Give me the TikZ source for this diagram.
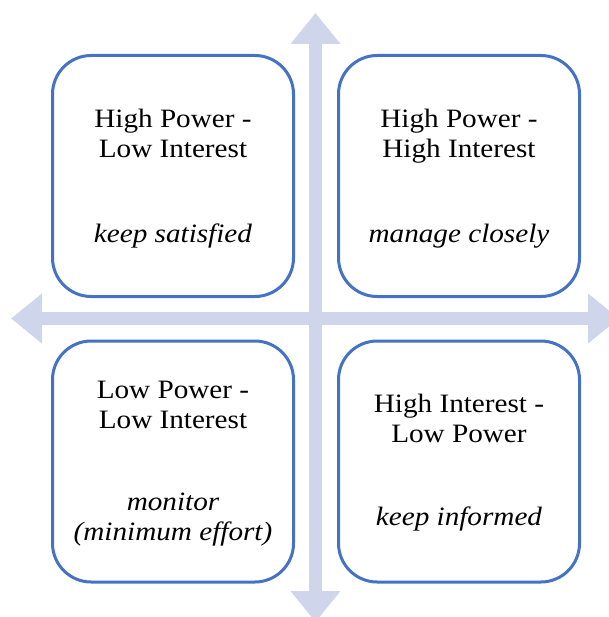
\documentclass[tikz,border=0pt]{standalone}
\usepackage{fontspec}
\setmainfont{Liberation Serif}[FakeStretch=1.1]
\usetikzlibrary{arrows.meta}
\definecolor{boxblue}{RGB}{68,114,196}
\definecolor{axisfill}{RGB}{207,213,234}

\begin{document}
\begin{tikzpicture}[x=0.75pt,y=-0.75pt,
  quad/.style={draw=boxblue, fill=white, line width=2.25pt, rounded corners=29pt,
    minimum width=180.75pt, minimum height=180.75pt, inner sep=0pt},
  axis/.style={draw=axisfill, line width=9.75pt,
    {Triangle[width=36pt,length=23.25pt]}-{Triangle[width=36pt,length=23.25pt]}},
  lbl/.style={anchor=base, inner sep=0pt, font=\fontsize{19.9pt}{22pt}\selectfont},
  note/.style={lbl, font=\fontsize{19.9pt}{22pt}\selectfont\itshape}]
  \useasboundingbox (0,0) rectangle (609,617);
  \clip (0,0) rectangle (609,617);

  % power / interest axes
  \coordinate (vtop) at (315.5,13);
  \coordinate (vbot) at (315.5,622);
  \coordinate (hleft) at (11,318.5);
  \coordinate (hright) at (619,318.5);
  \draw[axis] (vtop) -- (vbot);
  \draw[axis] (hleft) -- (hright);

  % quadrants
  \node[quad] (hpli) at (173,176) {};
  \node[quad] (hphi) at (459,176) {};
  \node[quad] (lpli) at (173,461.5) {};
  \node[quad] (hilp) at (459,461.5) {};

  % top left
  \node[lbl] (hpliA) at (173,127) {High Power -};
  \node[lbl] (hpliB) at (173,157) {Low Interest};
  \node[note] (hpliC) at (173,242) {keep satisfied};
  % top right
  \node[lbl] (hphiA) at (459,127) {High Power -};
  \node[lbl] (hphiB) at (459,157) {High Interest};
  \node[note] (hphiC) at (459,242) {manage closely};
  % bottom left
  \node[lbl] (lpliA) at (173,398) {Low Power -};
  \node[lbl] (lpliB) at (173,428) {Low Interest};
  \node[note] (lpliC) at (173,510) {monitor};
  \node[note] (lpliD) at (173,540) {(minimum effort)};
  % bottom right
  \node[lbl] (hilpA) at (459,412) {High Interest -};
  \node[lbl] (hilpB) at (459,442) {Low Power};
  \node[note] (hilpC) at (459,525) {keep informed};
\end{tikzpicture}
\end{document}
